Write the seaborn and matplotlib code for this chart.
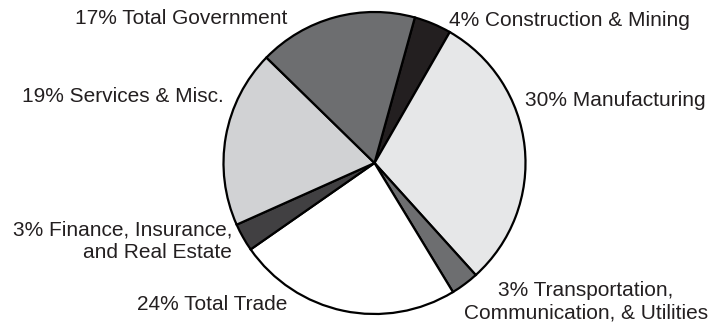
import matplotlib
matplotlib.use("Agg")
import matplotlib.pyplot as plt
import seaborn as sns

sns.set_theme(style="white")
plt.rcParams["font.family"] = ["Liberation Sans", "DejaVu Sans"]

# Employment share by sector, clockwise from the top
sectors = ["Construction & Mining", "Manufacturing",
           "Transportation,\nCommunication, & Utilities", "Total Trade",
           "Finance, Insurance,\nand Real Estate", "Services & Misc.",
           "Total Government"]
shares = [4, 30, 3, 24, 3, 19, 17]
fills = ["#231f20", "#e6e7e8", "#6d6e70", "#ffffff", "#414042", "#d1d2d4", "#6d6e70"]

W, H = 711, 326
fig = plt.figure(figsize=(W / 100, H / 100), dpi=100)
ax = fig.add_axes([0, 0, 1, 1])

cx, cy, r = 374.5, 163, 151
ax.pie(shares, colors=fills, startangle=74.5, counterclock=False,
       center=(cx, cy), radius=r,
       wedgeprops=dict(edgecolor="#000000", linewidth=1.6), frame=True)

ax.set_xlim(0, W)
ax.set_ylim(0, H)
ax.set_aspect("equal")
ax.axis("off")

labels = [f"{p}% {s}" for p, s in zip(shares, sectors)]
txt = dict(fontsize=15, color="#231f20", va="center")
# label anchors in pixel space (x, y from top), horizontal alignment
spots = [
    (449, 20, "left"),
    (525, 100, "left"),
    (586, 302, "center"),
    (287, 305, "right"),
    (232, 241, "right"),
    (224, 96, "right"),
    (287, 19, "right"),
]
for lab, (x, y, ha) in zip(labels, spots):
    ax.text(x, H - y, lab, ha=ha, multialignment=ha,
            linespacing=1.25, **txt)

fig.savefig("out.png", dpi=100)
